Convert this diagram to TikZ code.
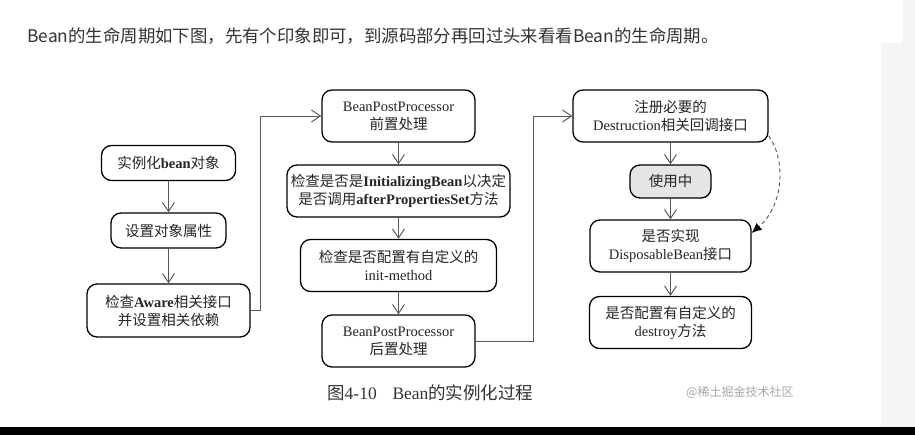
\documentclass[tikz,border=0pt]{standalone}
\usepackage{fontspec}
\setmainfont{Liberation Serif}
\newfontfamily\cjk{Noto Sans CJK SC}
\usetikzlibrary{arrows.meta}
\newcommand{\zh}[1]{{\cjk #1}}
\begin{document}
\begin{tikzpicture}[x=1pt,y=-1pt,
  box/.style={draw=black, line width=1.3pt, rounded corners=10pt, align=center,
    inner sep=0pt, font=\fontsize{14.5}{18}\selectfont, text=black!85},
  arr/.style={draw=black!65, line width=0.9pt, -{Straight Barb[length=9pt,width=12pt,line width=1pt]}},
  dasharr/.style={draw=black!65, line width=0.9pt, dash pattern=on 4pt off 3pt,
    -{Latex[length=10pt,width=9pt,fill=black,color=black]}},
]
\useasboundingbox (0,0) rectangle (915,435);
\fill[white] (0,0) rectangle (915,435);
% right side panel
\fill[black!4] (881,0) rectangle (915,427);
\fill[white, rounded corners=3pt] (870,-5) rectangle (903,43);
\fill[black] (0,427) rectangle (915,435);

% header
\node[anchor=west, inner sep=0pt, font=\cjk\fontsize{17.4}{20}\selectfont, text=black!80] (hdr) at (27,36)
  {Bean的生命周期如下图，先有个印象即可，到源码部分再回过头来看看Bean的生命周期。};

% left column
\node[box, minimum width=134pt, minimum height=35pt] (inst) at (168.5,163) {\zh{实例化}\textbf{bean}\zh{对象}};
\node[box, minimum width=115pt, minimum height=35pt] (setp) at (168.5,230.5) {\zh{设置对象属性}};
\node[box, minimum width=163pt, minimum height=53pt] (aware) at (168.5,310.5) {\zh{检查}\textbf{Aware}\zh{相关接口}\\\zh{并设置相关依赖}};

% middle column
\node[box, minimum width=153pt, minimum height=52pt] (bpp1) at (398.5,116) {BeanPostProcessor\\\zh{前置处理}};
\node[box, minimum width=223pt, minimum height=52pt] (initb) at (398.5,191) {\zh{检查是否是}\textbf{InitializingBean}\zh{以决定}\\\zh{是否调用}\textbf{afterPropertiesSet}\zh{方法}};
\node[box, minimum width=196pt, minimum height=52pt] (initm) at (398.5,265.5) {\zh{检查是否配置有自定义的}\\init-method};
\node[box, minimum width=153pt, minimum height=52pt] (bpp2) at (398.5,341) {BeanPostProcessor\\\zh{后置处理}};

% right column
\node[box, minimum width=195pt, minimum height=52pt] (reg) at (670.5,116) {\zh{注册必要的}\\Destruction\zh{相关回调接口}};
\node[box, fill=black!10, minimum width=81pt, minimum height=33pt] (use) at (670.5,181.5) {\zh{使用中}};
\node[box, minimum width=161pt, minimum height=52pt] (disp) at (670.5,246) {\zh{是否实现}\\DisposableBean\zh{接口}};
\node[box, minimum width=162pt, minimum height=52pt] (destroy) at (670.5,322.5) {\zh{是否配置有自定义的}\\destroy\zh{方法}};

% caption and watermark
\node[anchor=west, inner sep=0pt, font=\fontsize{17.5}{20}\selectfont, text=black!80] (cap) at (327,393)
  {\zh{图}4-10\hspace{0.9em}Bean\zh{的实例化过程}};
\node[anchor=west, inner sep=0pt, font=\cjk\fontsize{12}{14}\selectfont, text=black!35] (wm) at (686,392)
  {@稀土掘金技术社区};

% connectors
\coordinate (j1) at (260,310.5);
\coordinate (j2) at (533,341);
\draw[arr] (inst.south) -- (setp.north);
\draw[arr] (setp.south) -- (aware.north);
\draw[arr] (aware.east) -- (j1) |- (bpp1.west);
\draw[arr] (bpp1.south) -- (initb.north);
\draw[arr] (initb.south) -- (initm.north);
\draw[arr] (initm.south) -- (bpp2.north);
\draw[arr] (bpp2.east) -- (j2) |- (reg.west);
\draw[arr] (reg.south) -- (use.north);
\draw[arr] (use.south) -- (disp.north);
\draw[arr] (disp.south) -- (destroy.north);
\draw[dasharr] ([yshift=7pt]reg.south east) .. controls (786,160) and (784,205) .. ([yshift=13pt]disp.east);
\end{tikzpicture}
\end{document}
